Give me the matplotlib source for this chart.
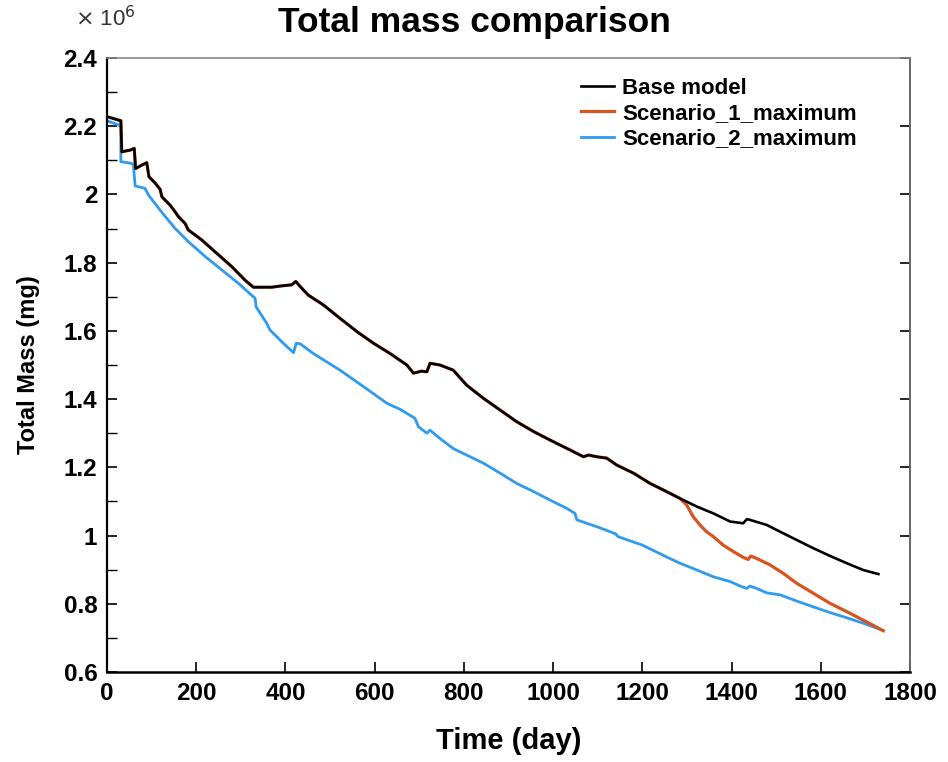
import numpy as np
import matplotlib
matplotlib.use("Agg")
import matplotlib.pyplot as plt
from matplotlib.ticker import MultipleLocator

plt.rcParams['font.family'] = ['Liberation Sans', 'DejaVu Sans']

# values (days, mass in 1e6 mg)
base_days = [0, 31, 33, 52, 61, 64, 78, 89, 94, 108, 119, 123, 141, 152, 160, 175, 182, 212, 242,
             280, 309, 328, 369, 392, 414, 423, 433, 451, 485, 522, 560, 597, 634, 672, 687, 705,
             717, 724, 746, 776, 806, 844, 881, 918, 956, 993, 1030, 1068, 1079, 1098, 1120, 1142,
             1180, 1217, 1254, 1284, 1322, 1359, 1397, 1426, 1434, 1441, 1479, 1509, 1546, 1583,
             1621, 1658, 1695, 1729]
base_mass = [2.228, 2.216, 2.125, 2.130, 2.135, 2.076, 2.086, 2.093, 2.052, 2.033, 2.015, 1.993,
             1.969, 1.950, 1.935, 1.915, 1.896, 1.867, 1.832, 1.788, 1.749, 1.728, 1.728, 1.732,
             1.735, 1.745, 1.730, 1.705, 1.676, 1.637, 1.598, 1.564, 1.534, 1.500, 1.476, 1.482,
             1.480, 1.505, 1.500, 1.485, 1.441, 1.402, 1.368, 1.334, 1.305, 1.280, 1.256, 1.231,
             1.236, 1.231, 1.227, 1.207, 1.183, 1.153, 1.129, 1.109, 1.085, 1.065, 1.041, 1.036,
             1.048, 1.046, 1.031, 1.011, 0.987, 0.963, 0.940, 0.919, 0.899, 0.887]

# scenario 1 follows the base model until ~day 1284, then splits off
sc1_split_day = 1284
sc1_tail_days = [1299, 1314, 1329, 1344, 1359, 1381, 1404, 1426, 1437, 1443, 1456, 1486, 1516,
                 1546, 1583, 1621, 1658, 1695, 1740]
sc1_tail_mass = [1.090, 1.055, 1.031, 1.011, 0.997, 0.972, 0.953, 0.936, 0.930, 0.940, 0.933,
                 0.914, 0.889, 0.860, 0.831, 0.801, 0.777, 0.752, 0.721]

sc2_days = [0, 25, 31, 31, 55, 59, 63, 85, 93, 119, 152, 182, 220, 257, 294, 328, 332, 334, 358,
            365, 395, 418, 424, 433, 462, 522, 582, 627, 657, 690, 698, 717, 724, 746, 776, 806,
            844, 881, 918, 956, 993, 1030, 1049, 1053, 1100, 1140, 1145, 1200, 1250, 1284, 1322,
            1359, 1397, 1419, 1434, 1441, 1456, 1479, 1509, 1546, 1583, 1621, 1658, 1695, 1733]
sc2_mass = [2.216, 2.204, 2.200, 2.096, 2.091, 2.089, 2.025, 2.018, 1.998, 1.954, 1.901, 1.862,
            1.818, 1.779, 1.740, 1.700, 1.696, 1.671, 1.622, 1.603, 1.564, 1.536, 1.564, 1.562,
            1.534, 1.485, 1.430, 1.388, 1.370, 1.344, 1.319, 1.300, 1.309, 1.285, 1.255, 1.236,
            1.212, 1.183, 1.153, 1.129, 1.104, 1.080, 1.065, 1.046, 1.025, 1.005, 0.997, 0.972,
            0.940, 0.919, 0.899, 0.879, 0.865, 0.852, 0.845, 0.852, 0.845, 0.832, 0.826, 0.808,
            0.791, 0.774, 0.759, 0.743, 0.725]

labels = ["Base model", "Scenario_1_maximum", "Scenario_2_maximum"]
colors = ["#000000", "#d9531e", "#2e9bf0"]

head = [d <= sc1_split_day for d in base_days]
sc1_days = [d for d, keep in zip(base_days, head) if keep] + sc1_tail_days
sc1_mass = [m for m, keep in zip(base_mass, head) if keep] + sc1_tail_mass

fig = plt.figure(figsize=(9.48, 7.62), dpi=100)
ax = fig.add_axes([0.1129, 0.1181, 0.8471, 0.8058])

l2, = ax.plot(sc2_days, sc2_mass, color=colors[2], lw=2.0, zorder=2)
l1, = ax.plot(sc1_days, sc1_mass, color=colors[1], lw=2.3, zorder=3)
l0, = ax.plot(base_days, base_mass, color=colors[0], lw=1.9, zorder=4)

ax.set_xlim(0, 1800)
ax.set_ylim(0.6, 2.4)
ax.xaxis.set_major_locator(MultipleLocator(200))
ax.yaxis.set_minor_locator(MultipleLocator(0.1))

yt = np.arange(0.6, 2.41, 0.2)
ax.set_yticks(yt)
ax.set_yticklabels(["%g" % round(v, 1) for v in yt])

ax.tick_params(axis='both', which='major', direction='in', length=7, width=1.2,
               labelsize=17.5, pad=7)
ax.tick_params(axis='y', which='minor', direction='in', length=7, width=1.0)
ax.tick_params(axis='y', right=True, which='major')
for lab in ax.get_xticklabels() + ax.get_yticklabels():
    lab.set_fontweight('bold')

ax.spines['left'].set_linewidth(1.6)
ax.spines['bottom'].set_linewidth(1.8)
ax.spines['top'].set_color('#888888')
ax.spines['right'].set_color('#666666')
ax.spines['top'].set_linewidth(1.2)
ax.spines['right'].set_linewidth(1.4)

ax.set_xlabel("Time (day)", fontsize=21, fontweight='bold', labelpad=16)
ax.set_ylabel("Total Mass (mg)", fontsize=17, fontweight='bold', labelpad=17)
fig.text(0.5, 0.971, "Total mass comparison", fontsize=25.5, fontweight='bold',
         ha='center', va='center')
fig.text(0.079, 0.975, r"$\times$ 10$^6$", fontsize=16, ha='left', va='center',
         color='#333333')

leg = ax.legend([l0, l1, l2], labels, loc='upper left', bbox_to_anchor=(0.59, 0.968),
                frameon=False, fontsize=16, handlelength=1.5, handletextpad=0.35,
                labelspacing=0.2, borderpad=0, borderaxespad=0)
for t in leg.get_texts():
    t.set_fontweight('bold')

fig.savefig("out.png", dpi=100)
